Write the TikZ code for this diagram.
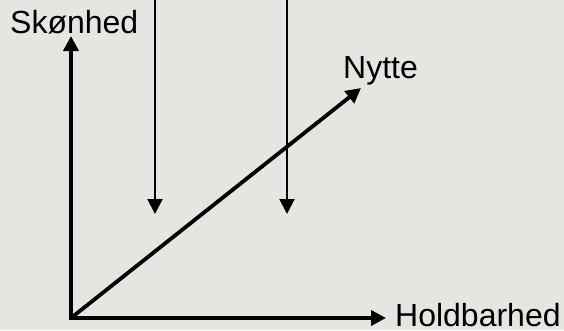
\documentclass[tikz,border=0pt]{standalone}
\usepackage{fontspec}
\setmainfont{Liberation Sans}
\usetikzlibrary{arrows.meta}
\definecolor{bg}{RGB}{230,229,225}
\begin{document}
\begin{tikzpicture}[x=1pt,y=-1pt,
  lbl/.style={inner sep=0pt,anchor=base west,font=\fontsize{32}{38}\selectfont},
  axis/.style={line width=3.8pt,-{Triangle[length=15pt,width=15pt]}},
  thinarrow/.style={line width=2pt,-{Triangle[length=15pt,width=15pt]}}]
\fill[bg] (0,0) rectangle (564,330);
\useasboundingbox (0,0) rectangle (564,330);
\node[lbl] (sk) at (10,33) {Skønhed};
\node[lbl] (ny) at (343,78) {Nytte};
\node[lbl] (hb) at (395,326) {Holdbarhed};
\coordinate (O) at (71,318);
\coordinate (ytip) at (71,36);
\coordinate (xtip) at (386,318);
\coordinate (dtip) at (361,88);
\coordinate (a1) at (155,-2);
\coordinate (a1t) at (155,214);
\coordinate (a2) at (287,-2);
\coordinate (a2t) at (287,214);
\draw[thinarrow] (a1) -- (a1t);
\draw[thinarrow] (a2) -- (a2t);
\draw[axis] ([yshift=1.9pt]O) -- (ytip);
\draw[axis] ([xshift=-1.9pt]O) -- (xtip);
\draw[axis] (O) -- (dtip);
\end{tikzpicture}
\end{document}
